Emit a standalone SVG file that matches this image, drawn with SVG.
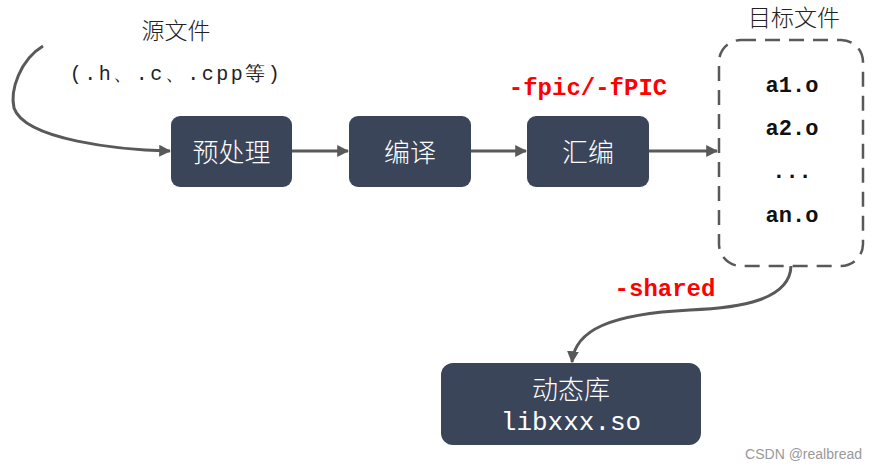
<svg xmlns="http://www.w3.org/2000/svg" width="877" height="470" viewBox="0 0 877 470">
<style>
.node{fill:#3b4559;}
.nt{fill:#ffffff;font-family:"Noto Sans CJK SC","Noto Sans",sans-serif;font-weight:300;font-size:26px;text-anchor:middle;}
.mono{font-family:"Liberation Mono","DejaVu Sans Mono",monospace;}
.lbl{fill:#222;font-family:"Noto Sans CJK SC",sans-serif;font-weight:300;font-size:23px;text-anchor:middle;}
.red{fill:#ff0000;font-weight:bold;font-size:24px;}
.obj{fill:#111;font-weight:bold;font-size:22px;text-anchor:middle;}
.conn{fill:none;stroke:#595959;stroke-width:3;}
</style>
<defs>
<marker id="ah" viewBox="0 0 10 10" refX="9" refY="5" markerWidth="4" markerHeight="4" orient="auto" markerUnits="strokeWidth">
<path d="M0,0 L10,5 L0,10 z" fill="#595959"/>
</marker>
</defs>
<g id="connectors">
<path class="conn" d="M43,46 C20,60 10,90 14,108 C25,140 120,150 170,151" marker-end="url(#ah)"/>
<path class="conn" d="M292,151 L348,151" marker-end="url(#ah)"/>
<path class="conn" d="M471,151 L526,151" marker-end="url(#ah)"/>
<path class="conn" d="M649,151 L717,151" marker-end="url(#ah)"/>
<path class="conn" d="M791,266 C790,300 740,308 690,310 C610,314 575,330 572,362" marker-end="url(#ah)"/>
</g>
<g id="source">
<text class="lbl" x="176" y="39">源文件</text>
<text class="mono" x="176" y="80" font-size="20" letter-spacing="2.5" fill="#222" text-anchor="middle">(.h、.c、.cpp等)</text>
</g>
<g id="preprocess">
<rect class="node" x="171" y="116" width="121" height="71" rx="9"/>
<text class="nt" x="231.5" y="162">预处理</text>
</g>
<g id="compile">
<rect class="node" x="349" y="116" width="122" height="71" rx="9"/>
<text class="nt" x="410" y="162">编译</text>
</g>
<g id="assemble">
<rect class="node" x="527" y="116" width="122" height="71" rx="9"/>
<text class="nt" x="588" y="162">汇编</text>
</g>
<g id="fpic">
<text class="mono red" x="588" y="95" text-anchor="middle">-fpic/-fPIC</text>
</g>
<g id="objects">
<text class="lbl" x="794" y="26" font-size="21">目标文件</text>
<rect x="719" y="40" width="144" height="226" rx="22" fill="none" stroke="#595959" stroke-width="2.5" stroke-dasharray="15,9"/>
<text class="mono obj" x="792" y="92">a1.o</text>
<text class="mono obj" x="792" y="135">a2.o</text>
<text class="mono obj" x="792" y="178">...</text>
<text class="mono obj" x="792" y="222">an.o</text>
</g>
<g id="shared">
<text class="mono red" x="665" y="296" text-anchor="middle">-shared</text>
</g>
<g id="dylib">
<rect class="node" x="441" y="363" width="260" height="82" rx="12"/>
<text class="nt" x="571" y="399">动态库</text>
<text class="mono" x="571" y="430" font-size="26" fill="#ffffff" text-anchor="middle">libxxx.so</text>
</g>
<text x="862" y="459" font-family="Liberation Sans,sans-serif" font-size="14" fill="#999" text-anchor="end">CSDN @realbread</text>
</svg>
